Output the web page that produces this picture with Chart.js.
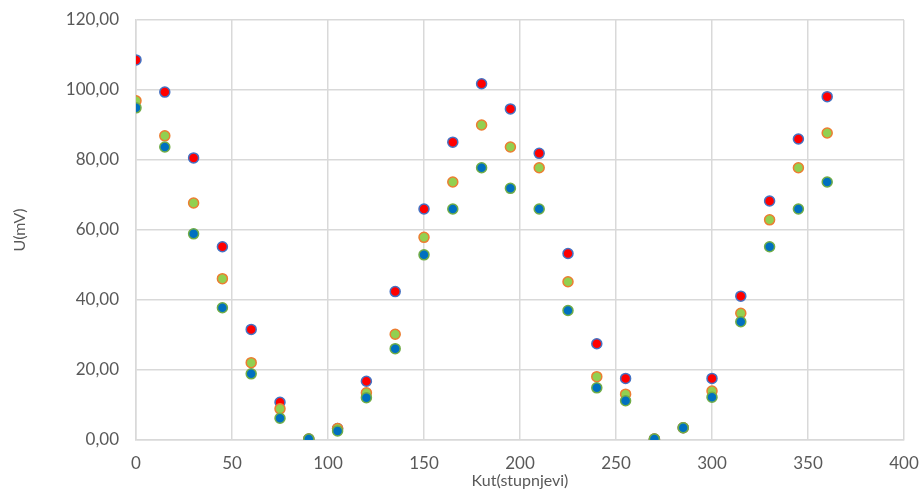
<!DOCTYPE html>
<html>
<head>
<meta charset="utf-8">
<script src="https://cdn.jsdelivr.net/npm/chart.js@4/dist/chart.umd.min.js"></script>
<style>
    html, body {margin: 0; padding: 0; background: #fff;}
    #wrap {width: 923px; height: 490px;}
</style>
</head>
<body>
<div id="wrap"><canvas id="chart"></canvas></div>
<script>
const angles = [0, 15, 30, 45, 60, 75, 90, 105, 120, 135, 150, 165, 180, 195, 210, 225, 240, 255, 270, 285, 300, 315, 330, 345, 360];
const redVals   = [108.6, 99.4, 80.6, 55.2, 31.6, 10.8, 0.3, 3.3, 16.8, 42.4, 66.0, 85.1, 101.8, 94.6, 81.9, 53.3, 27.5, 17.6, 0.3, 3.5, 17.6, 41.1, 68.3, 86.0, 98.1];
const greenVals = [96.9, 86.9, 67.7, 46.1, 22.1, 8.9, 0.3, 3.3, 13.5, 30.2, 57.9, 73.7, 90.0, 83.7, 77.8, 45.2, 18.1, 13.1, 0.3, 3.5, 14.0, 36.2, 62.9, 77.8, 87.7];
const blueVals  = [94.9, 83.7, 58.9, 37.8, 18.9, 6.2, 0.3, 2.6, 12.1, 26.1, 52.9, 66.0, 77.8, 71.9, 66.0, 37.0, 14.9, 11.2, 0.3, 3.5, 12.2, 33.8, 55.2, 66.0, 73.7];
const xTitle = 'Kut(stupnjevi)';
const yTitle = 'U(mV)';

const FONT  = 'Lato, "Open Sans", sans-serif';
const GREY  = '#595959';
const GRID  = '#d9d9d9';

const toPoints = vals => vals.map((v, i) => ({x: angles[i], y: v}));

const series = (vals, fill, border, order) => ({
    data            : toPoints(vals),
    backgroundColor : fill,
    borderColor     : border,
    pointRadius     : 5,
    pointHoverRadius: 5,
    pointBorderWidth: 1.5,
    showLine        : false,
    order           : order
});

new Chart(document.getElementById('chart'), {
    type: 'scatter',
    data: {
        datasets: [
            series(redVals,   '#ff0000', '#4472c4', 2),
            series(greenVals, '#92d050', '#ed7d31', 1),
            series(blueVals,  '#0070c0', '#70ad47', 0)
        ]
    },
    options: {
        responsive: true,
        maintainAspectRatio: false,
        animation: false,
        layout: {padding: {top: 20, right: 19, bottom: 0, left: 0}},
        plugins: {legend: {display: false}, tooltip: {enabled: false}},
        scales: {
            x: {
                type: 'linear',
                min: 0,
                max: 400,
                ticks: {stepSize: 50, color: GREY, font: {family: FONT, size: 17}, padding: 13},
                grid: {color: GRID, lineWidth: 1.5, drawTicks: false},
                border: {color: GRID, width: 1.5},
                title: {display: true, text: xTitle, color: GREY, font: {family: FONT, size: 16}, padding: {top: 0, bottom: 0}},
                // keep label overflow from pushing the plot area in
                afterFit: s => {s.height = 50; s.paddingLeft = 0; s.paddingRight = 0}
            },
            y: {
                min: 0,
                max: 120,
                ticks: {
                    stepSize: 20,
                    color: GREY,
                    font: {family: FONT, size: 17},
                    padding: 17,
                    callback: v => v.toFixed(2).replace('.', ',')
                },
                grid: {color: GRID, lineWidth: 1.5, drawTicks: false},
                border: {color: GRID, width: 1.5},
                title: {display: true, text: yTitle, color: GREY, font: {family: FONT, size: 16}, padding: {top: 10, bottom: 0}},
                afterFit: s => {s.width = 136; s.paddingTop = 0; s.paddingBottom = 0}
            }
        }
    }
});
</script>
</body>
</html>
